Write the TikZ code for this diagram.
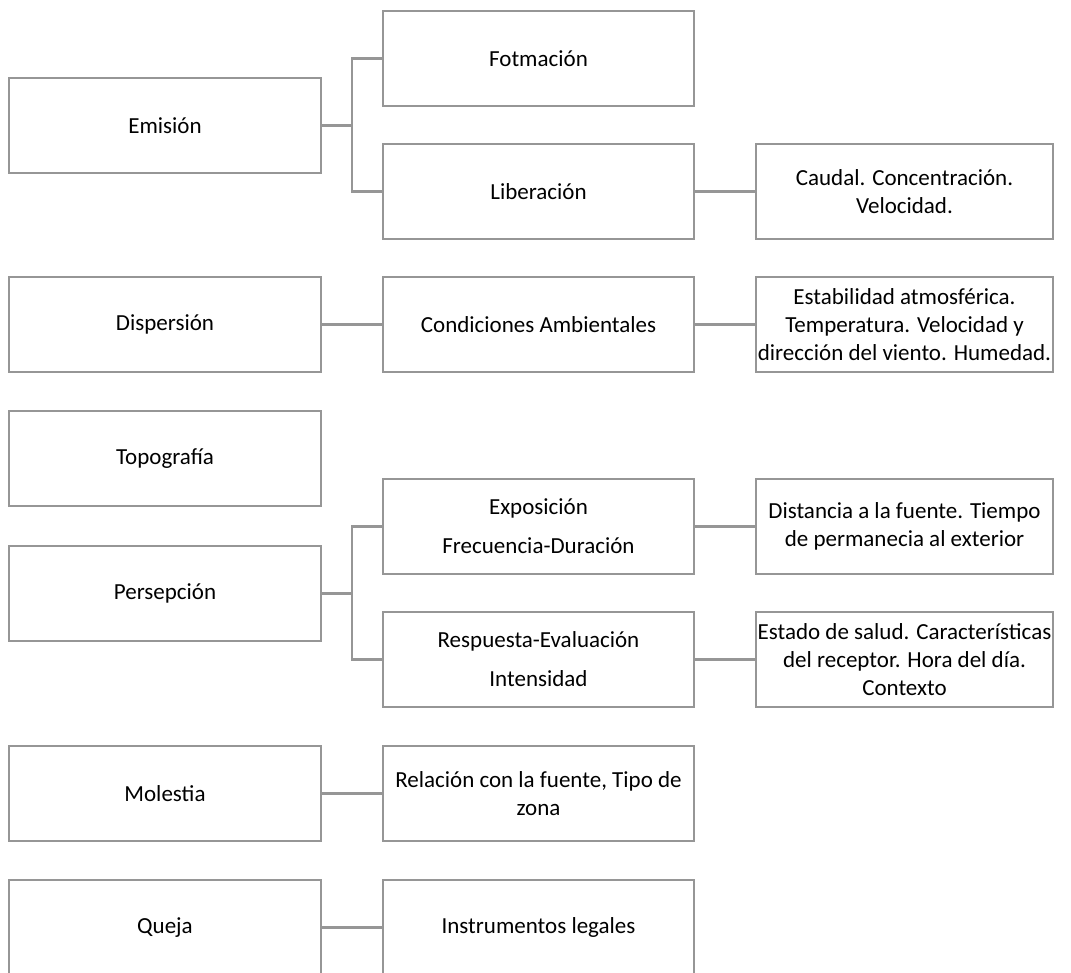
\documentclass[tikz,border=0pt]{standalone}
\usepackage{fontspec}
\setmainfont{Carlito}
\definecolor{linegray}{RGB}{150,150,150}
\tikzset{
  box/.style={draw=linegray, line width=2.6pt, minimum height=95pt, inner sep=0pt,
    align=center, text=black, font=\fontsize{23}{28}\selectfont},
  colA/.style={box, minimum width=312pt},
  colB/.style={box, minimum width=311pt},
  colC/.style={box, minimum width=297pt},
  link/.style={draw=linegray, line width=2.6pt}
}
\begin{document}
\begin{tikzpicture}[x=1pt,y=-1pt]
\useasboundingbox (0,0) rectangle (1071,972);
% left column
\node[colA] (emi) at (165,125.5) {Emisión};
\node[colA] (dis) at (165,324.5) {Dispersión};
\node[colA] (top) at (165,458.5) {Topografía};
\node[colA] (per) at (165,593.5) {Persepción};
\node[colA] (mol) at (165,793.5) {Molestia};
\node[colA] (que) at (165,927.5) {Queja};
% middle column
\node[colB] (fot) at (538.5,58.5) {Fotmación};
\node[colB] (lib) at (538.5,191.5) {Liberación};
\node[colB] (con) at (538.5,324.5) {Condiciones Ambientales};
\node[colB] (exp) at (538.5,526.5) {Exposición\\[11pt]Frecuencia-Duración};
\node[colB] (res) at (538.5,659.5) {Respuesta-Evaluación\\[11pt]Intensidad};
\node[colB] (rel) at (538.5,793.5) {Relación con la fuente, Tipo de\\zona};
\node[colB] (ins) at (538.5,927.5) {Instrumentos legales};
% right column
\node[colC] (cau) at (904.5,191.5) {Caudal. Concentración.\\Velocidad.};
\node[colC] (est) at (904.5,324.5) {Estabilidad atmosférica.\\Temperatura. Velocidad y\\dirección del viento. Humedad.};
\node[colC] (dst) at (904.5,526.5) {Distancia a la fuente. Tiempo\\de permanecia al exterior};
\node[colC] (sal) at (904.5,659.5) {Estado de salud. Características\\del receptor. Hora del día.\\Contexto};
% junctions
\coordinate (j1) at (352,125.5);
\coordinate (j2) at (352,593.5);
% connectors
\draw[link] (emi.east) -- (j1);
\draw[link] (fot.west) -| (j1) |- (lib.west);
\draw[link] (per.east) -- (j2);
\draw[link] (exp.west) -| (j2) |- (res.west);
\draw[link] (lib.east) -- (cau.west);
\draw[link] (dis.east) -- (con.west);
\draw[link] (con.east) -- (est.west);
\draw[link] (exp.east) -- (dst.west);
\draw[link] (res.east) -- (sal.west);
\draw[link] (mol.east) -- (rel.west);
\draw[link] (que.east) -- (ins.west);
\end{tikzpicture}
\end{document}
